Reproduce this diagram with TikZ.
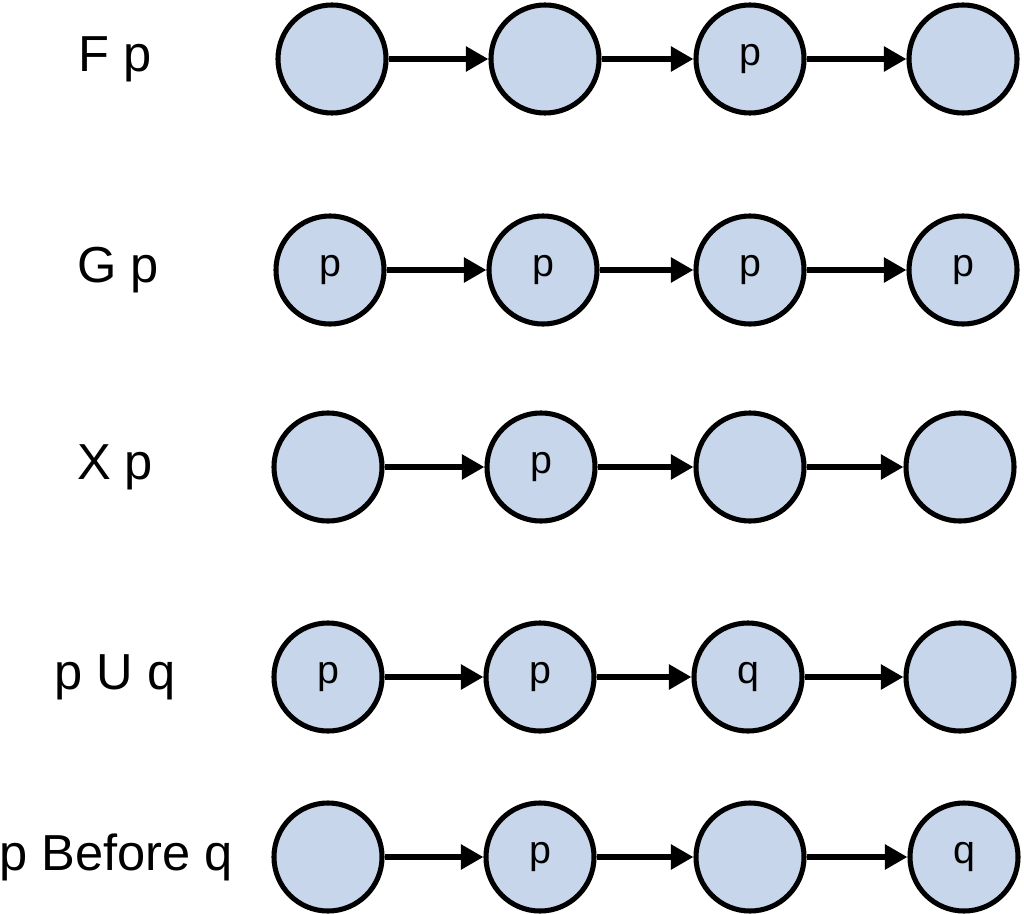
\documentclass[tikz,border=0pt]{standalone}
\usepackage{fontspec}
\setmainfont{Liberation Sans}
\usetikzlibrary{arrows.meta}
\definecolor{worldfill}{RGB}{199,214,234}

\begin{document}
\begin{tikzpicture}[x=0.025cm, y=-0.025cm,
    world/.style={circle, draw, line width=3.6pt, fill=worldfill,
      minimum size=2.7cm, inner sep=0pt, font=\fontsize{28}{32}\selectfont},
    op/.style={inner sep=0pt, font=\fontsize{36}{42}\selectfont},
    next/.style={line width=4.2pt, -{Triangle[length=16pt, width=17pt]}}]
      \useasboundingbox (0,0) rectangle (1024,913);

      % F p
      \draw (115,59) node[op] (F) {F p};
      \draw (332,59) node[world] (f1) {};
      \draw (545,59) node[world] (f2) {};
      \draw (750,59) node[world] (f3) {p};
      \draw (963,59) node[world] (f4) {};
      \draw[next] (f1) -- (f2);
      \draw[next] (f2) -- (f3);
      \draw[next] (f3) -- (f4);

      % G p
      \draw (118,270) node[op] (G) {G p};
      \draw (330,270) node[world] (g1) {p};
      \draw (543,270) node[world] (g2) {p};
      \draw (750,270) node[world] (g3) {p};
      \draw (963,270) node[world] (g4) {p};
      \draw[next] (g1) -- (g2);
      \draw[next] (g2) -- (g3);
      \draw[next] (g3) -- (g4);

      % X p
      \draw (115,467) node[op] (X) {X p};
      \draw (328,467) node[world] (x1) {};
      \draw (541,467) node[world] (x2) {p};
      \draw (750,467) node[world] (x3) {};
      \draw (960,467) node[world] (x4) {};
      \draw[next] (x1) -- (x2);
      \draw[next] (x2) -- (x3);
      \draw[next] (x3) -- (x4);

      % p U q
      \draw (115,677) node[op] (U) {p U q};
      \draw (328,677) node[world] (u1) {p};
      \draw (540,677) node[world] (u2) {p};
      \draw (748,677) node[world] (u3) {q};
      \draw (960,677) node[world] (u4) {};
      \draw[next] (u1) -- (u2);
      \draw[next] (u2) -- (u3);
      \draw[next] (u3) -- (u4);

      % p Before q
      \draw (116,857) node[op] (B) {p Before q};
      \draw (328,857) node[world] (b1) {};
      \draw (540,857) node[world] (b2) {p};
      \draw (750,857) node[world] (b3) {};
      \draw (964,857) node[world] (b4) {q};
      \draw[next] (b1) -- (b2);
      \draw[next] (b2) -- (b3);
      \draw[next] (b3) -- (b4);
\end{tikzpicture}
\end{document}
